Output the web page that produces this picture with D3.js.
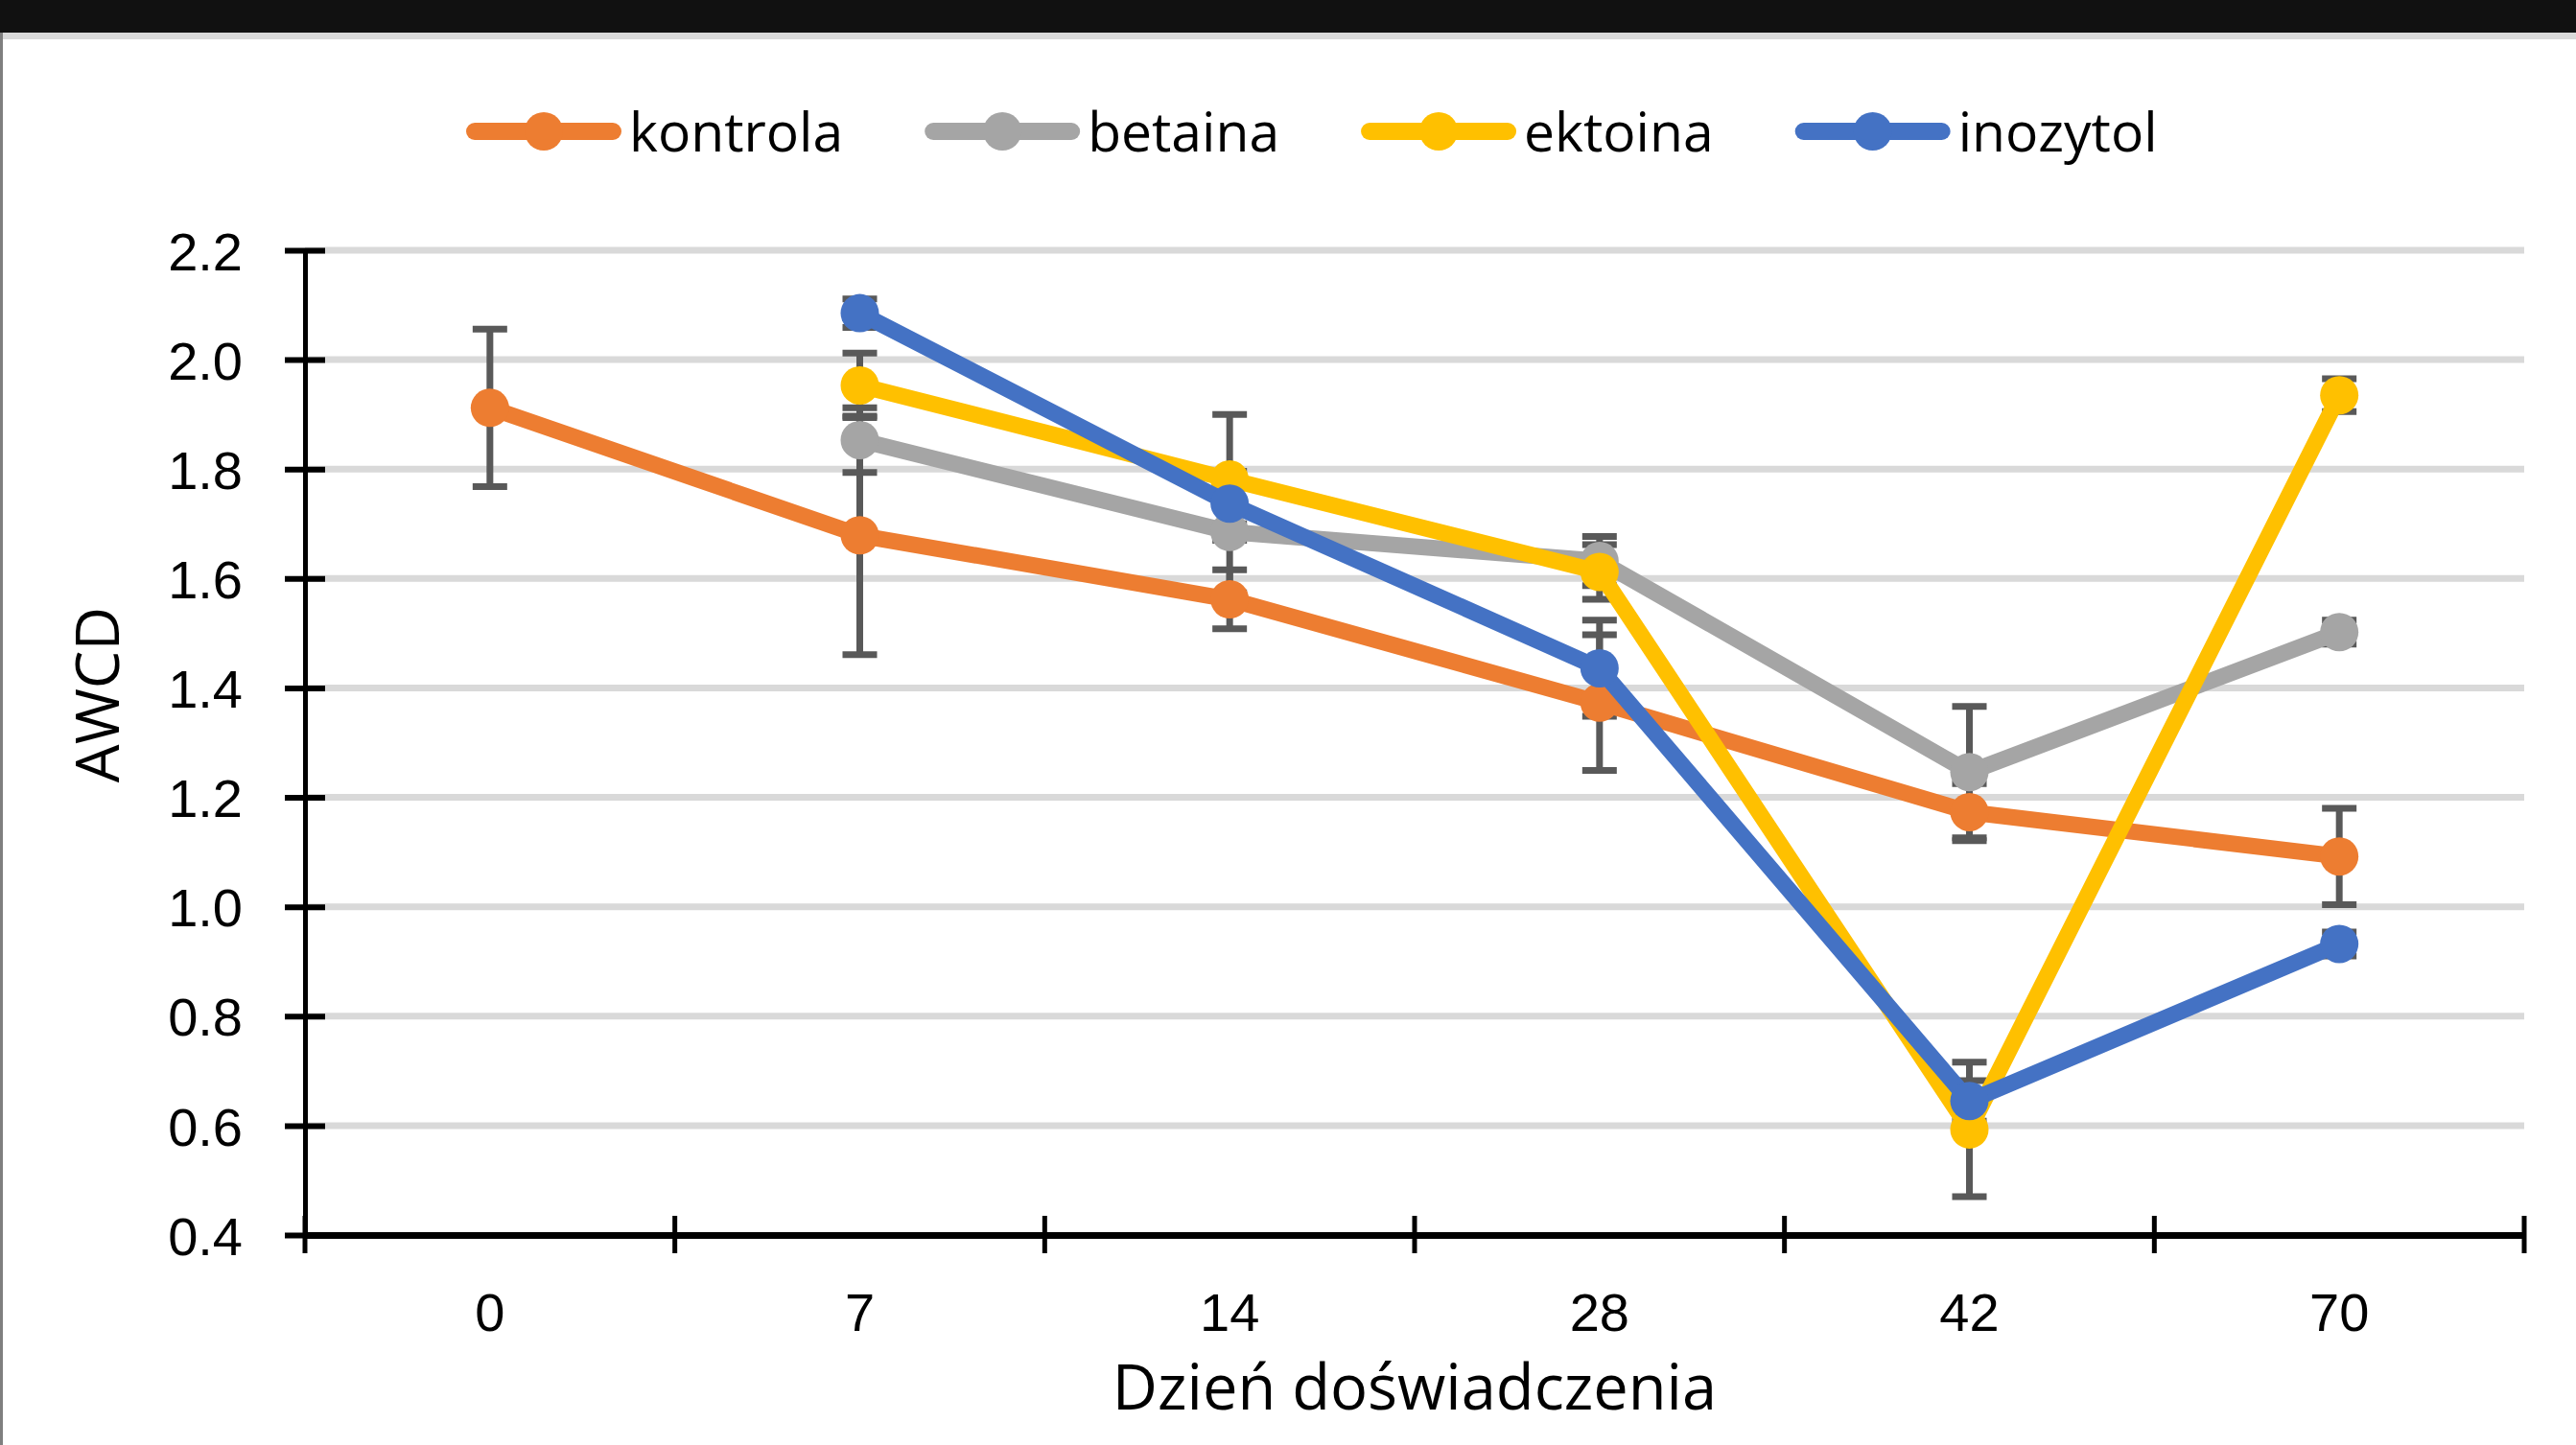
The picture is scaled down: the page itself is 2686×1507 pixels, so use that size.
<!DOCTYPE html>
<html>
<head>
<meta charset="utf-8">
<script src="https://cdn.jsdelivr.net/npm/d3@7"></script>
<style>
  html, body { margin: 0; padding: 0; background: #ffffff; }
  #my_dataviz_awcd { width: 2686px; height: 1507px; }
</style>
</head>
<body>
<div id="my_dataviz_awcd"></div>
<script>
// data
const categories = ["0", "7", "14", "28", "42", "70"];
const yTickValues = [0.4, 0.6, 0.8, 1.0, 1.2, 1.4, 1.6, 1.8, 2.0, 2.2];
const seriesNames = ["kontrola", "betaina", "ektoina", "inozytol"];

const kontrola     = [1.912, 1.679, 1.562, 1.373, 1.173, 1.092];
const kontrolaErr  = [0.144, 0.218, 0.054, 0.124, 0.052, 0.088];
const betaina      = [null, 1.853, 1.685, 1.632, 1.246, 1.502];
const betainaErr   = [null, 0.059, 0.015, 0.045, 0.120, 0.022];
const ektoina      = [null, 1.953, 1.781, 1.612, 0.593, 1.935];
const ektoinaErr   = [null, 0.059, 0.015, 0.050, 0.123, 0.030];
const inozytol     = [null, 2.085, 1.737, 1.436, 0.645, 0.932];
const inozytolErr  = [null, 0.026, 0.163, 0.088, 0.037, 0.022];

function generate_svg_awcd(){
  const W = 2686, H = 1507;
  const margin = {top: 261, right: 54, bottom: 219, left: 318};
  const width = W - margin.left - margin.right;
  const height = H - margin.top - margin.bottom;

  const colors = d3.scaleOrdinal()
    .domain(seriesNames)
    .range(["#ED7D31", "#A5A5A5", "#FFC000", "#4472C4"]);

  const values = [kontrola, betaina, ektoina, inozytol];
  const errors = [kontrolaErr, betainaErr, ektoinaErr, inozytolErr];

  const dataReady = seriesNames.map(function(name, i) {
    return {
      name: name,
      values: categories.map(function(c, j) {
        return {time: c, value: values[i][j], err: errors[i][j]};
      }).filter(d => d.value !== null)
    };
  });

  const svg_root = d3.select("#my_dataviz_awcd")
    .append("svg")
      .attr("width", W)
      .attr("height", H)
      .style("font-family", "'Open Sans', sans-serif");

  // window frame: dark strip on top, light border of the chart area
  svg_root.append("rect").attr("x", 0).attr("y", 0).attr("width", W).attr("height", 34).attr("fill", "#111111");
  svg_root.append("rect").attr("x", 3).attr("y", 34).attr("width", W - 3).attr("height", 7).attr("fill", "#d9d9d9");
  svg_root.append("rect").attr("x", 0).attr("y", 34).attr("width", 3).attr("height", H - 34).attr("fill", "#7f7f7f");

  const svg = svg_root.append("g")
    .attr("transform", `translate(${margin.left}, ${margin.top})`);

  const x = d3.scaleBand()
    .domain(categories)
    .range([0, width]);

  const y = d3.scaleLinear()
    .domain([0.4, 2.2])
    .range([height, 0]);

  // gridlines
  svg.append("g")
    .selectAll("line")
    .data(yTickValues.filter(v => v > 0.4))
    .join("line")
      .attr("x1", 0)
      .attr("x2", width)
      .attr("y1", d => y(d))
      .attr("y2", d => y(d))
      .attr("stroke", "#d9d9d9")
      .attr("stroke-width", 7);

  // y axis, ticks crossing the line
  const yAxis = svg.append("g")
    .call(d3.axisLeft(y)
      .tickValues(yTickValues)
      .tickFormat(d3.format(".1f"))
      .tickSizeInner(21)
      .tickSizeOuter(0)
      .tickPadding(44));
  yAxis.select(".domain").attr("stroke", "#000").attr("stroke-width", 5);
  yAxis.selectAll(".tick line")
    .attr("x1", -21).attr("x2", 21)
    .attr("stroke", "#000").attr("stroke-width", 6);
  yAxis.selectAll(".tick text")
    .style("font-size", "56px")
    .attr("fill", "#000")
    .attr("dy", "0.36em");

  // x axis
  const xAxis = svg.append("g")
    .attr("transform", `translate(0, ${height})`)
    .call(d3.axisBottom(x).tickSize(0).tickPadding(0));
  xAxis.select(".domain").attr("stroke", "#000").attr("stroke-width", 7);
  xAxis.selectAll(".tick text")
    .style("font-size", "56px")
    .attr("fill", "#000")
    .attr("y", 100)
    .attr("dy", 0);

  // x tick marks between categories
  const boundaries = categories.map(c => x(c)).concat([width]);
  xAxis.selectAll(".bound")
    .data(boundaries)
    .join("line")
      .attr("class", "bound")
      .attr("x1", d => d).attr("x2", d => d)
      .attr("y1", -20).attr("y2", 19)
      .attr("stroke", "#000")
      .attr("stroke-width", 5);

  // axis titles
  svg.append("text")
    .attr("x", width / 2)
    .attr("y", height + 182)
    .style("text-anchor", "middle")
    .style("font-size", "65px")
    .attr("fill", "#000")
    .text("Dzień doświadczenia");

  svg.append("text")
    .attr("transform", "rotate(-90)")
    .attr("x", -(y(1.4) + 7))
    .attr("y", -194)
    .style("text-anchor", "middle")
    .style("font-size", "63px")
    .attr("fill", "#000")
    .text("AWCD");

  const cx = d => x(d.time) + x.bandwidth() / 2;

  // error bars, under everything else
  const errG = svg.append("g")
    .selectAll("g")
    .data(dataReady)
    .join("g")
    .selectAll("g")
    .data(d => d.values)
    .join("g");
  errG.append("line")
    .attr("x1", cx).attr("x2", cx)
    .attr("y1", d => y(d.value + d.err))
    .attr("y2", d => y(d.value - d.err))
    .attr("stroke", "#595959").attr("stroke-width", 7);
  errG.append("line")
    .attr("x1", d => cx(d) - 18).attr("x2", d => cx(d) + 18)
    .attr("y1", d => y(d.value + d.err)).attr("y2", d => y(d.value + d.err))
    .attr("stroke", "#595959").attr("stroke-width", 7);
  errG.append("line")
    .attr("x1", d => cx(d) - 18).attr("x2", d => cx(d) + 18)
    .attr("y1", d => y(d.value - d.err)).attr("y2", d => y(d.value - d.err))
    .attr("stroke", "#595959").attr("stroke-width", 7);

  // lines + markers, series by series
  const line = d3.line()
    .x(cx)
    .y(d => y(d.value));

  const seriesG = svg.append("g")
    .selectAll("g")
    .data(dataReady)
    .join("g");

  seriesG.append("path")
    .attr("d", d => line(d.values))
    .attr("stroke", d => colors(d.name))
    .attr("stroke-width", 17)
    .attr("stroke-linejoin", "round")
    .attr("fill", "none");

  seriesG.selectAll("circle")
    .data(d => d.values.map(v => ({name: d.name, time: v.time, value: v.value})))
    .join("circle")
      .attr("cx", cx)
      .attr("cy", d => y(d.value))
      .attr("r", 20)
      .attr("fill", d => colors(d.name));

  // legend
  const legend = svg_root.append("g").attr("transform", "translate(486, 137)");
  let lx = 0;
  seriesNames.forEach(function(name){
    const item = legend.append("g").attr("transform", `translate(${lx}, 0)`);
    item.append("line")
      .attr("x1", 9).attr("x2", 153)
      .attr("y1", 0).attr("y2", 0)
      .attr("stroke", colors(name))
      .attr("stroke-width", 18)
      .attr("stroke-linecap", "round");
    item.append("circle")
      .attr("cx", 81).attr("cy", 0).attr("r", 20)
      .attr("fill", colors(name));
    const t = item.append("text")
      .attr("x", 170)
      .attr("y", 21)
      .style("font-size", "57px")
      .attr("fill", "#000")
      .text(name);
    lx += 170 + t.node().getComputedTextLength() + 85;
  });
}

generate_svg_awcd();
</script>
</body>
</html>
